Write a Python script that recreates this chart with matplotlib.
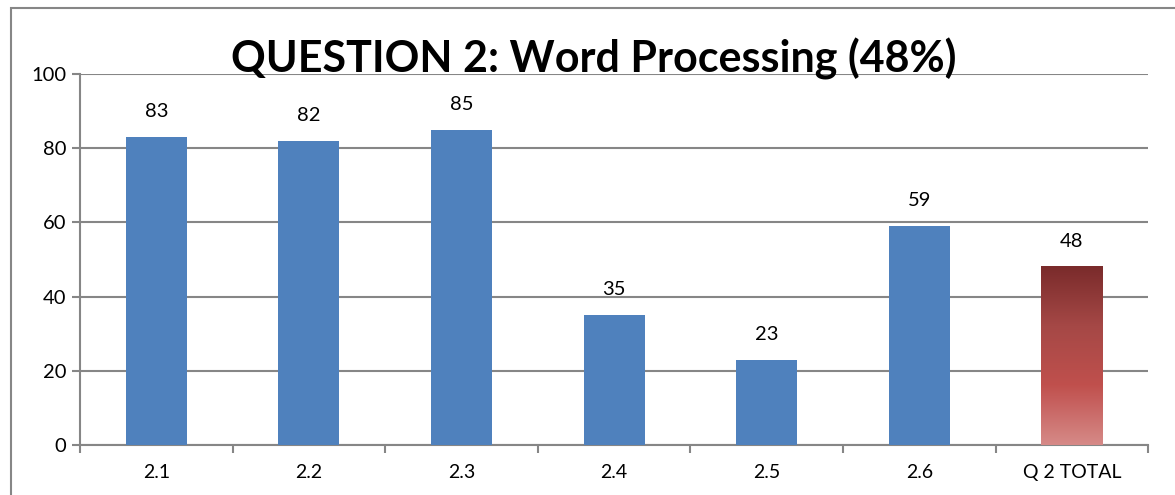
import numpy as np
import matplotlib.pyplot as plt
from matplotlib.colors import LinearSegmentedColormap

categories = ["2.1", "2.2", "2.3", "2.4", "2.5", "2.6", "Q 2 TOTAL"]
values = [83, 82, 85, 35, 23, 59, 48]
y_ticks = [0, 20, 40, 60, 80, 100]

plt.rcParams['font.family'] = ['Lato', 'DejaVu Sans']

fig = plt.figure(figsize=(11.75, 4.95), dpi=100)
ax = fig.add_axes([0.0681, 0.101, 0.909, 0.7495])

x = np.arange(len(categories))
colors = ["#4F81BD"] * (len(categories) - 1) + ["none"]
bars = ax.bar(x, values, width=0.4, color=colors, zorder=3)

# gradient fill for the total bar
total = bars[-1]
grad = LinearSegmentedColormap.from_list("red_grad", ["#D68A88", "#C0504D", "#A54846", "#7A2B2B"])
x0 = total.get_x()
ax.imshow(np.linspace(0, 1, 256).reshape(-1, 1), cmap=grad, origin="lower", aspect="auto",
          extent=[x0, x0 + total.get_width(), 0, values[-1]], zorder=3, clip_path=total, clip_on=True)

for xi, v in zip(x, values):
    ax.annotate(str(v), (xi, v), xytext=(0, 12), textcoords="offset points",
                ha="center", va="bottom", fontsize=14.5)

ax.set_xlim(-0.5, len(categories) - 0.5)
ax.set_ylim(0, 100)
ax.set_yticks(y_ticks)
ax.set_xticks(x)
ax.set_xticklabels(categories)
ax.set_xticks(np.arange(-0.5, len(categories)), minor=True)
ax.tick_params(axis="x", which="major", length=0, labelsize=14, pad=14)
ax.tick_params(axis="x", which="minor", length=6, width=1.5, color="#868686")
ax.tick_params(axis="y", length=6, width=1.5, color="#868686", labelsize=14.5, pad=4)
ax.grid(axis="y", color="#868686", linewidth=1.5, zorder=0)
for s in ["top", "right"]:
    ax.spines[s].set_visible(False)
for s in ["left", "bottom"]:
    ax.spines[s].set_color("#868686")
    ax.spines[s].set_linewidth(1.5)

fig.text(0.505, 0.88, "QUESTION 2: Word Processing (48%)", ha="center", va="center",
         fontsize=31, fontweight="bold")

# chart frame
fig.patches.append(plt.Rectangle((11 / 1175, -0.1), 1.2, (495 - 8) / 495 + 0.1,
                                 transform=fig.transFigure, fill=False, edgecolor="#868686", linewidth=1.5))

fig.savefig("out.png", dpi=100)
